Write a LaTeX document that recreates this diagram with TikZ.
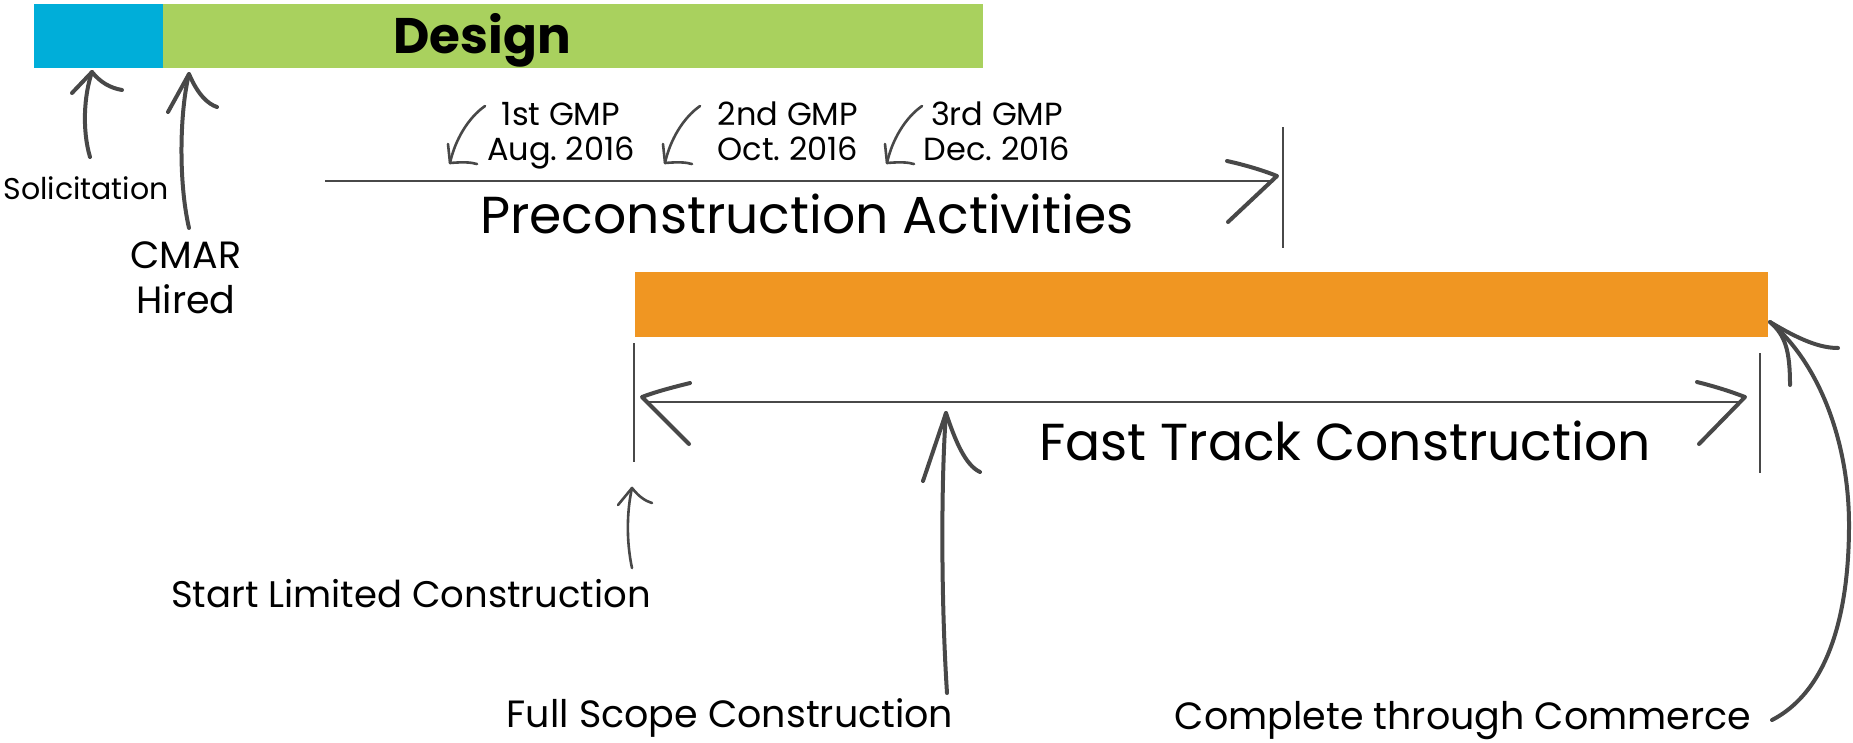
\documentclass[tikz,border=0pt]{standalone}
\usepackage{fontspec}
\setmainfont{Poppins}
\usetikzlibrary{calc}
\definecolor{solblue}{RGB}{0,174,217}
\definecolor{designgreen}{RGB}{169,209,94}
\definecolor{buildorange}{RGB}{240,150,34}
\definecolor{ink}{RGB}{72,72,72}
\tikzset{
  bar/.style={draw=none, inner sep=0pt, anchor=north west},
  rule/.style={draw=ink, line width=2.6pt},
  hand/.style={draw=ink, line width=4pt, line cap=round, line join=round},
  thinhand/.style={draw=ink, line width=2.6pt, line cap=round, line join=round},
  label/.style={inner sep=0pt, anchor=base, text=black}
}

\begin{document}
\begin{tikzpicture}[x=1pt, y=-1pt]
			%%%%% FRAME %%%%%
			\useasboundingbox (0, 0) rectangle (1853, 742);
			
			%%%%% BARS %%%%%
			\node[bar, fill=solblue, minimum width=129pt, minimum height=64pt] (solic) at (34, 4) {};
			\node[bar, fill=designgreen, minimum width=820pt, minimum height=64pt] (design) at (163, 4) {};
			\node[bar, fill=buildorange, minimum width=1133pt, minimum height=65pt] (build) at (635, 272) {};
			\node[label, font=\fontsize{50}{60}\selectfont\bfseries] (designtxt) at (482, 53) {Design};
			
			%%%%% LABELS %%%%%
			\node[label, font=\fontsize{30}{36}\selectfont] (soltxt) at (86, 199) {Solicitation};
			\node[label, align=center, font=\fontsize{38}{45}\selectfont] (cmartxt) at (186, 313) {CMAR\\Hired};
			\node[label, font=\fontsize{52}{60}\selectfont] (pretxt) at (807, 233) {Preconstruction Activities};
			\node[label, font=\fontsize{52}{60}\selectfont] (fasttxt) at (1345, 460) {Fast Track Construction};
			\node[label, font=\fontsize{37}{40}\selectfont] (starttxt) at (411, 607) {Start Limited Construction};
			\node[label, font=\fontsize{38}{40}\selectfont] (fulltxt) at (730, 727) {Full Scope Construction};
			\node[label, font=\fontsize{38}{40}\selectfont] (donetxt) at (1463, 729) {Complete through Commerce};
			
			\foreach \x/\n/\m [count=\i] in {561/1st/Aug., 788/2nd/Oct., 997/3rd/Dec.}
				\node[label, align=center, font=\fontsize{32}{35}\selectfont] (gmp\i) at (\x, 160) {\n\ GMP\\\m\ 2016};
			
			%%%%% SOLICITATION AND CMAR %%%%%
			\coordinate (soltip) at (92, 72);
			\coordinate (soltail) at (90, 157);
			\draw[hand] (soltail) .. controls (82, 130) and (84, 95) .. (soltip);
			\draw[hand] (72, 93) -- (soltip) .. controls (100, 82) and (110, 88) .. (122, 90);
			
			\coordinate (cmartip) at (189, 74);
			\coordinate (cmartail) at (189, 228);
			\draw[hand] (cmartail) .. controls (178, 180) and (180, 110) .. (cmartip);
			\draw[hand] (168, 112) -- (cmartip) .. controls (198, 95) and (208, 104) .. (217, 107);
			
			%%%%% PRECONSTRUCTION %%%%%
			\coordinate (prestart) at (325, 181);
			\coordinate (pretip) at (1277, 176);
			\draw[rule] (prestart) -- (1272, 181);
			\draw[hand] (1227, 161) .. controls (1245, 165) and (1262, 170) .. (pretip) -- (1228, 222);
			\draw[rule] (1283, 127) -- (1283, 248);
			
			\foreach \dx [count=\i] in {0, 215, 437} {
				\coordinate (gtail\i) at (485+\dx, 106);
				\coordinate (gtip\i) at (450+\dx, 163);
				\draw[thinhand] (gtail\i) .. controls (468+\dx, 118) and (455+\dx, 140) .. (gtip\i);
				\draw[thinhand] (448+\dx, 144) -- (gtip\i) .. controls (462+\dx, 162) and (470+\dx, 162) .. (477+\dx, 164);
			}
			
			%%%%% FAST TRACK %%%%%
			\coordinate (fastleft) at (642, 397);
			\coordinate (fastright) at (1745, 397);
			\draw[rule] (646, 402) -- (1741, 402);
			\draw[hand] (690, 383) .. controls (670, 388) and (655, 392) .. (fastleft) -- (689, 444);
			\draw[hand] (1697, 382) .. controls (1717, 387) and (1732, 392) .. (fastright) -- (1699, 444);
			\draw[rule] (634, 343) -- (634, 462);
			\draw[rule] (1760, 353) -- (1760, 473);
			
			%%%%% MILESTONE ARROWS %%%%%
			\coordinate (starttip) at (632, 488);
			\coordinate (starttail) at (632, 568);
			\draw[thinhand] (starttail) .. controls (626, 540) and (627, 510) .. (starttip);
			\draw[thinhand] (618, 505) -- (starttip) .. controls (640, 498) and (646, 501) .. (652, 503);
			
			\coordinate (fulltip) at (946, 413);
			\coordinate (fulltail) at (947, 693);
			\draw[hand] (fulltail) .. controls (941, 600) and (941, 480) .. (fulltip);
			\draw[hand] (923, 481) -- (fulltip) .. controls (955, 440) and (965, 465) .. (980, 472);
			
			\coordinate (donetip) at (1770, 322);
			\coordinate (donetail) at (1772, 720);
			\draw[hand] (donetail) .. controls (1830, 690) and (1849, 610) .. (1849, 525)
				.. controls (1849, 440) and (1818, 362) .. (donetip);
			\draw[hand] (1790, 385) .. controls (1790, 350) and (1785, 335) .. (donetip)
				.. controls (1800, 340) and (1820, 348) .. (1838, 348);
			
		\end{tikzpicture}
\end{document}
